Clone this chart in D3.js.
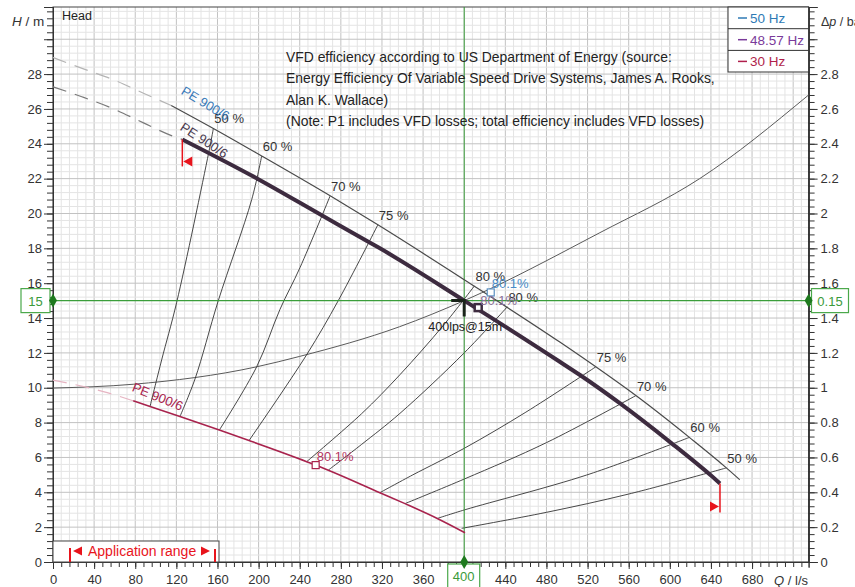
<!DOCTYPE html>
<html lang="en">
<head>
<meta charset="UTF-8">
<title>PE 900/6 pump curves with VFD efficiency</title>
<script src="https://d3js.org/d3.v7.min.js"></script>
<style>
  body { margin: 0; background: #fff; }
  svg { display: block; font-family: "Liberation Sans", Arial, sans-serif; }
  .axis text { font-size: 13px; fill: #333; }
  .axis path, .axis line { stroke: #333; }
</style>
</head>
<body>
<svg id="chart" width="855" height="587"></svg>
<script>
// pump curves, [Q l/s, H m]
const pump50Dash = [[0, 28.95], [31, 28.27], [60, 27.65], [88, 26.9], [115, 26.2]];
const pump50 = [[115, 26.2], [156, 24.88], [203, 23.3], [270, 21.0], [316, 19.35], [400, 16.2],
                [493, 12.62], [528, 11.2], [567, 9.55], [619, 7.15], [655, 5.4], [668, 4.72]];
const pump4857Dash = [[0, 27.27], [28, 26.7], [59, 26.0], [88, 25.2], [114, 24.5], [125.8, 24.25]];
const pump4857 = [[125.8, 24.25], [198.8, 22.0], [261.4, 19.9], [306.7, 18.38], [318, 18.0], [400, 15.0],
                  [493, 11.49], [512.6, 10.73], [551.6, 9.1], [601.8, 6.81], [640.7, 4.93], [648.8, 4.51]];
const pump30Dash = [[0, 10.44], [49, 9.78], [78, 9.25]];
const pump30 = [[78, 9.25], [94.4, 8.93], [123.5, 8.35], [161.8, 7.57], [190.7, 6.97], [246.8, 5.76],
                [255.5, 5.56], [267.8, 5.27], [318, 3.98], [342.4, 3.35], [373.8, 2.5], [400.8, 1.68]];
const systemCurve = [[0, 9.98], [78, 10.2], [198, 11.2], [240, 11.8], [337, 13.5], [400, 15],
                     [532, 18.9], [629, 22.0], [735, 26.8]];

// iso-efficiency lines, first point on the 50 Hz curve
const eff50L = [[156, 24.88], [151.5, 23.5], [120.3, 14.9], [105.7, 11.6], [94.4, 8.93]];
const eff60L = [[203, 23.3], [193.3, 20.8], [160.8, 15.0], [138.1, 10.5], [123.5, 8.35]];
const eff70L = [[269.5, 21.0], [240.3, 16.9], [220.8, 14.5], [198.1, 11.2], [161.8, 7.57]];
const eff75L = [[316, 19.35], [277.5, 15.0], [246.8, 11.9], [190.7, 6.97]];
const eff80L = [[410, 15.85], [380, 13.6], [337.5, 10.75], [300, 8.5], [246.8, 5.76]];
const eff80R = [[442, 14.65], [400, 12.0], [337.5, 8.53], [300, 6.74], [267.8, 5.27]];
const eff75R = [[528, 11.2], [460, 8.6], [400.8, 6.55], [350, 5.0], [318, 3.98]];
const eff70R = [[567, 9.55], [480, 6.85], [400.8, 4.78], [342.4, 3.35]];
const eff60R = [[619, 7.15], [519, 4.99], [400.8, 3.0], [373.8, 2.5]];
const eff50R = [[655, 5.4], [560, 3.9], [480, 2.85], [397.5, 1.93]];
const effLines = [eff50L, eff60L, eff70L, eff75L, eff80L, eff80R, eff75R, eff70R, eff60R, eff50R];
const effLabels = ["50 %", "60 %", "70 %", "75 %", "80 %", "80 %", "75 %", "70 %", "60 %", "50 %"];

// best efficiency points
const bep = [
  {q: 425.8, h: 15.47, color: "#5a8fc0", label: "80.1%", dx: 1, dy: -4},
  {q: 413.6, h: 14.6, color: "#3d2b3f", label: "80.1%", dx: 2, dy: -3},
  {q: 255.5, h: 5.56, color: "#a8234d", label: "80.1%", dx: 1, dy: -4}
];
const bepLabelColors = ["#4a8cc8", "#8a6e96", "#b4345e"];

const duty = {q: 400, h: 15};
const rangeQ = [125.8, 648.8];
const legendItems = ["50 Hz", "48.57 Hz", "30 Hz"];
const legendColors = ["#2f7ab5", "#7a3a9a", "#b01f4c"];
const noteLines = [
  "VFD efficiency according to US Department of Energy (source:",
  "Energy Efficiency Of Variable Speed Drive Systems, James A. Rooks,",
  "Alan K. Wallace)",
  "(Note: P1 includes VFD losses; total efficiency includes VFD losses)"
];

const svg = d3.select("#chart");
const pL = 53, pR = 808.6, pT = 7, pB = 562;

const x = d3.scaleLinear().domain([0, 735]).range([pL, pR]);
const y = d3.scaleLinear().domain([0, 31.85]).range([pB, pT]);
const yBar = d3.scaleLinear().domain([0, 3.185]).range([pB, pT]);

const line = d3.line().x(d => x(d[0])).y(d => y(d[1])).curve(d3.curveCatmullRom.alpha(0.5));
const smooth = d3.line().x(d => x(d[0])).y(d => y(d[1])).curve(d3.curveMonotoneX);

// grid
const grid = svg.append("g");
const qMinor = d3.range(0, 92).map(i => i * 8);
const hMinor = d3.range(0, 80).map(i => i * 0.4).filter(v => v <= 31.85);
grid.selectAll(".vx").data(qMinor).join("line")
    .attr("x1", d => x(d)).attr("x2", d => x(d)).attr("y1", pT).attr("y2", pB)
    .attr("stroke", (d, i) => i % 5 === 0 ? "#c2c2c2" : "#e4e4e4").attr("stroke-width", 1);
grid.selectAll(".hy").data(hMinor).join("line")
    .attr("x1", pL).attr("x2", pR).attr("y1", d => y(d)).attr("y2", d => y(d))
    .attr("stroke", (d, i) => i % 5 === 0 ? "#c2c2c2" : "#e4e4e4").attr("stroke-width", 1);

// frame
svg.append("rect").attr("x", pL).attr("y", pT).attr("width", pR - pL).attr("height", pB - pT)
   .attr("fill", "none").attr("stroke", "#444");

// axes
const ax = svg.append("g").attr("class", "axis");
ax.append("g").attr("transform", `translate(${pL},0)`)
  .call(d3.axisLeft(y).tickValues(hMinor).tickSize(6).tickFormat(""));
ax.append("g").attr("transform", `translate(${pL},0)`)
  .call(d3.axisLeft(y).tickValues(d3.range(0, 15).map(i => i * 2)).tickSize(9).tickPadding(2));
ax.append("g").attr("transform", `translate(${pL},0)`)
  .call(d3.axisLeft(y).tickValues([30]).tickSize(9).tickFormat(""));

ax.append("g").attr("transform", `translate(${pR},0)`)
  .call(d3.axisRight(yBar).tickValues(hMinor.map(v => v / 10)).tickSize(6).tickFormat(""));
ax.append("g").attr("transform", `translate(${pR},0)`)
  .call(d3.axisRight(yBar).tickValues(d3.range(0, 15).map(i => i * 0.2)).tickSize(9).tickPadding(3)
        .tickFormat(d => d3.format("~g")(+d.toFixed(1))));
ax.append("g").attr("transform", `translate(${pR},0)`)
  .call(d3.axisRight(yBar).tickValues([3]).tickSize(9).tickFormat(""));

// bottom axis: 400 is shown in the green box instead
ax.append("g").attr("transform", `translate(0,${pB})`)
  .call(d3.axisBottom(x).tickValues(qMinor.filter(v => v <= 735)).tickSize(5).tickFormat(""));
ax.append("g").attr("transform", `translate(0,${pB})`)
  .call(d3.axisBottom(x).tickValues(d3.range(0, 18).map(i => i * 40)).tickSize(7).tickPadding(6)
        .tickFormat(d => d === 400 ? "" : d));
ax.selectAll(".domain").attr("stroke", "#333");

// axis titles
svg.append("text").attr("x", 12).attr("y", 26).attr("font-size", 13.5).attr("fill", "#333")
   .html('<tspan font-style="italic">H</tspan> / m');
svg.append("text").attr("x", 821).attr("y", 26).attr("font-size", 12.5).attr("fill", "#333")
   .html('Δ<tspan font-style="italic">p</tspan> / ba');
svg.append("rect").attr("x", 770).attr("y", 568).attr("width", 40).attr("height", 19).attr("fill", "#fff");
svg.append("text").attr("x", 808).attr("y", 585).attr("font-size", 13).attr("fill", "#333")
   .attr("text-anchor", "end").html('<tspan font-style="italic">Q</tspan> / l/s');
svg.append("text").attr("x", 62).attr("y", 20).attr("font-size", 12.5).attr("fill", "#222").text("Head");

// system curve
svg.append("path").attr("d", smooth(systemCurve)).attr("fill", "none").attr("stroke", "#5a5a5a").attr("stroke-width", 1);

// efficiency lines
svg.append("g").selectAll("path").data(effLines).join("path")
   .attr("d", line).attr("fill", "none").attr("stroke", "#333").attr("stroke-width", 0.9);
svg.append("g").selectAll("text").data(effLines).join("text")
   .attr("x", d => x(d[0][0]) + 1).attr("y", d => y(d[0][1]) - 5)
   .attr("font-size", 13).attr("fill", "#333").text((d, i) => effLabels[i]);

// green duty lines
const green = "#3b9e3b";
svg.append("line").attr("x1", x(duty.q)).attr("x2", x(duty.q)).attr("y1", pT).attr("y2", pB)
   .attr("stroke", green).attr("stroke-width", 1);
svg.append("line").attr("x1", pL).attr("x2", pR).attr("y1", y(duty.h)).attr("y2", y(duty.h))
   .attr("stroke", green).attr("stroke-width", 1.2);

// pump curves
svg.append("path").attr("d", smooth(pump50Dash)).attr("fill", "none").attr("stroke", "#b4b4b4")
   .attr("stroke-width", 1.2).attr("stroke-dasharray", "14,9");
svg.append("path").attr("d", smooth(pump4857Dash)).attr("fill", "none").attr("stroke", "#7a7a7a")
   .attr("stroke-width", 1.2).attr("stroke-dasharray", "14,9");
svg.append("path").attr("d", smooth(pump30Dash)).attr("fill", "none").attr("stroke", "#e6b4c2")
   .attr("stroke-width", 1.2).attr("stroke-dasharray", "14,9");
svg.append("path").attr("d", smooth(pump50)).attr("fill", "none").attr("stroke", "#4a4a4a").attr("stroke-width", 1.2);
svg.append("path").attr("d", smooth(pump30)).attr("fill", "none").attr("stroke", "#a8234d").attr("stroke-width", 1.6);
svg.append("path").attr("d", smooth(pump4857)).attr("fill", "none").attr("stroke", "#3d2b3f").attr("stroke-width", 4);

// curve names
const names = [
  {p: pump50[0], color: "#3a7ab8", rot: 31, dx: 9, dy: -12},
  {p: pump4857[0], color: "#4a3a4f", rot: 33, dx: -3, dy: -10},
  {p: pump30[0], color: "#a8234d", rot: 22, dx: -2, dy: -10}
];
svg.append("g").selectAll("text").data(names).join("text")
   .attr("transform", d => `translate(${x(d.p[0]) + d.dx},${y(d.p[1]) + d.dy}) rotate(${d.rot})`)
   .attr("font-size", 13).attr("fill", d => d.color).text("PE 900/6");

// best efficiency points
svg.append("g").selectAll("rect").data(bep).join("rect")
   .attr("x", d => x(d.q) - 3.5).attr("y", d => y(d.h) - 3.5).attr("width", 7).attr("height", 7)
   .attr("fill", "#fff").attr("stroke", d => d.color).attr("stroke-width", (d, i) => i === 1 ? 2.5 : 1.2);
svg.append("g").selectAll("text").data(bep).join("text")
   .attr("x", d => x(d.q) + d.dx).attr("y", d => y(d.h) + d.dy)
   .attr("font-size", 13).attr("fill", (d, i) => bepLabelColors[i]).text(d => d.label);

// duty point marker
svg.append("path")
   .attr("d", `M${x(duty.q) - 13},${y(duty.h)} H${x(duty.q)} V${y(duty.h) + 16}`)
   .attr("fill", "none").attr("stroke", "#1a241a").attr("stroke-width", 3);
svg.append("text").attr("x", x(duty.q) + 1).attr("y", y(duty.h) + 30).attr("text-anchor", "middle")
   .attr("font-size", 12.5).attr("fill", "#222").text("400lps@15m");

// application range markers on the 48.57 Hz curve
const red = "#e8141c";
const hStart = pump4857[0][1], hEnd = pump4857[pump4857.length - 1][1];
svg.append("line").attr("x1", x(rangeQ[0])).attr("x2", x(rangeQ[0])).attr("y1", y(hStart)).attr("y2", y(hStart) + 27)
   .attr("stroke", red).attr("stroke-width", 1.5);
svg.append("path").attr("fill", red)
   .attr("d", `M${x(rangeQ[0]) + 1},${y(hStart) + 22} l9,-5 v10 z`);
svg.append("line").attr("x1", x(rangeQ[1])).attr("x2", x(rangeQ[1])).attr("y1", y(hEnd)).attr("y2", y(hEnd) + 29)
   .attr("stroke", red).attr("stroke-width", 1.5);
svg.append("path").attr("fill", red)
   .attr("d", `M${x(rangeQ[1]) - 1},${y(hEnd) + 23} l-9,-5 v10 z`);

// note text
svg.append("g").selectAll("text").data(noteLines).join("text")
   .attr("x", 286).attr("y", (d, i) => 62 + i * 21.3)
   .attr("font-size", 13.9).attr("fill", "#222").text(d => d);

// legend
const lg = svg.append("g");
lg.append("rect").attr("x", 728).attr("y", pT).attr("width", pR - 728).attr("height", 65)
  .attr("fill", "#fff").attr("stroke", "#333");
legendItems.forEach((t, i) => {
  const ry = pT + i * 21.7;
  if (i > 0) lg.append("line").attr("x1", 728).attr("x2", pR).attr("y1", ry).attr("y2", ry).attr("stroke", "#333");
  lg.append("line").attr("x1", 738).attr("x2", 747).attr("y1", ry + 11).attr("y2", ry + 11)
    .attr("stroke", legendColors[i]).attr("stroke-width", 1.5);
  lg.append("text").attr("x", 750).attr("y", ry + 16).attr("font-size", 13.5)
    .attr("fill", legendColors[i]).text(t);
});

// green value boxes
const gbox = (cx, cy, w, txt) => {
  svg.append("rect").attr("x", cx - w / 2).attr("y", cy - 12).attr("width", w).attr("height", 24)
     .attr("fill", "#fff").attr("stroke", "#4aa84a").attr("stroke-width", 1.2);
  svg.append("text").attr("x", cx).attr("y", cy + 5).attr("text-anchor", "middle")
     .attr("font-size", 13).attr("fill", "#3a9a3a").text(txt);
};
gbox(35.5, y(duty.h), 29, "15");
gbox(830, y(duty.h), 37, "0.15");
gbox(x(duty.q) - 0.5, 576, 32, "400");
const diamond = d3.symbol().type(d3.symbolDiamond).size(55);
[[pL, y(duty.h)], [pR, y(duty.h)], [x(duty.q), pB]].forEach(p => {
  svg.append("path").attr("d", diamond).attr("transform", `translate(${p[0]},${p[1]})`).attr("fill", "#1e7a1e");
});

// application range box
svg.append("rect").attr("x", pL).attr("y", 541).attr("width", 166).attr("height", 21)
   .attr("fill", "#fff").attr("stroke", "#444");
svg.append("line").attr("x1", 70).attr("x2", 70).attr("y1", 548).attr("y2", 562).attr("stroke", red).attr("stroke-width", 2);
svg.append("line").attr("x1", 215).attr("x2", 215).attr("y1", 549).attr("y2", 562).attr("stroke", red).attr("stroke-width", 2);
svg.append("path").attr("fill", red).attr("d", "M73,551 l9,-4.5 v9 z");
svg.append("path").attr("fill", red).attr("d", "M210,551 l-9,-4.5 v9 z");
svg.append("text").attr("x", 88).attr("y", 556).attr("font-size", 14).attr("fill", red).text("Application range");
</script>
</body>
</html>
